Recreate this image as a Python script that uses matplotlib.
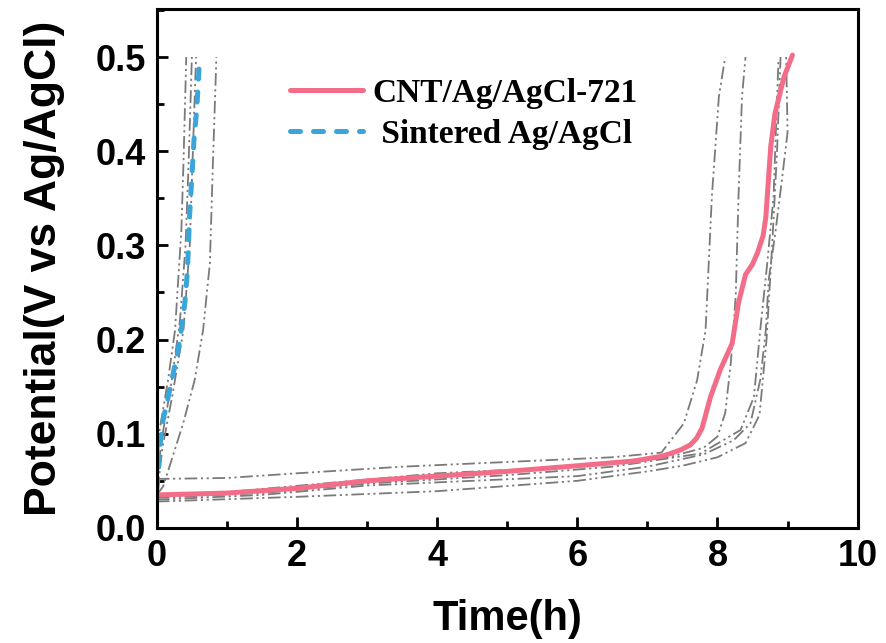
import matplotlib
matplotlib.use("Agg")
import matplotlib.pyplot as plt
from matplotlib.ticker import MultipleLocator, FormatStrFormatter
from matplotlib.font_manager import FontProperties

# CNT/Ag/AgCl-721 (main curve)
cnt_t = [0, 0.5, 1, 2, 3, 4, 5, 6, 6.8, 7.04, 7.2, 7.33, 7.48, 7.61, 7.7, 7.78, 7.9, 8.04, 8.21, 8.3, 8.4, 8.5, 8.57, 8.65, 8.69, 8.76, 8.82, 8.88, 8.95, 9.07]
cnt_v = [0.035, 0.036, 0.037, 0.042, 0.05, 0.055, 0.06, 0.066, 0.071, 0.074, 0.076, 0.079, 0.083, 0.088, 0.095, 0.106, 0.139, 0.168, 0.196, 0.239, 0.269, 0.28, 0.292, 0.31, 0.33, 0.405, 0.44, 0.458, 0.479, 0.502]

# Sintered Ag/AgCl (main curve)
sin_t = [0, 0.02, 0.043, 0.09, 0.162, 0.233, 0.305, 0.352, 0.4, 0.433, 0.452, 0.462, 0.486, 0.51, 0.53, 0.567, 0.59, 0.61]
sin_v = [0.04, 0.058, 0.086, 0.115, 0.139, 0.164, 0.189, 0.212, 0.239, 0.269, 0.299, 0.325, 0.355, 0.385, 0.412, 0.442, 0.47, 0.5]

# repeat measurements, CNT electrodes (grey)
cnt_rep_t = [
    [0, 1, 2, 3.5, 5, 6.5, 7.2, 7.52, 7.71, 7.83, 7.92, 8.02, 8.11],
    [0, 1, 2.5, 4, 6, 7.3, 7.8, 8.0, 8.11, 8.19, 8.26, 8.3, 8.35, 8.4],
    [0, 1.5, 3, 4.5, 6, 7, 7.8, 8.23, 8.47, 8.61, 8.69, 8.73, 8.83, 8.92, 9.0, 8.98],
    [0, 1.5, 3, 5, 6.5, 7.76, 8.33, 8.52, 8.61, 8.71, 8.8, 8.87],
    [0, 2, 4, 6, 7, 7.5, 8.0, 8.4, 8.6, 8.7, 8.78, 8.85, 8.9],
]
cnt_rep_v = [
    [0.052, 0.053, 0.058, 0.065, 0.07, 0.075, 0.08, 0.111, 0.157, 0.21, 0.352, 0.458, 0.5],
    [0.033, 0.038, 0.048, 0.058, 0.065, 0.075, 0.085, 0.097, 0.122, 0.175, 0.246, 0.352, 0.458, 0.5],
    [0.03, 0.035, 0.045, 0.05, 0.055, 0.065, 0.078, 0.093, 0.111, 0.157, 0.21, 0.263, 0.316, 0.37, 0.42, 0.5],
    [0.032, 0.037, 0.047, 0.056, 0.065, 0.079, 0.104, 0.139, 0.21, 0.281, 0.352, 0.497],
    [0.028, 0.033, 0.039, 0.05, 0.06, 0.066, 0.075, 0.09, 0.12, 0.2, 0.3, 0.4, 0.5],
]

# repeat measurements, sintered electrodes (grey)
sin_rep_t = [
    [0, 0.04, 0.16, 0.26, 0.35, 0.38, 0.42],
    [0, 0.06, 0.2, 0.33, 0.41, 0.45, 0.48, 0.5],
    [0, 0.08, 0.22, 0.38, 0.47, 0.51, 0.56],
    [0, 0.09, 0.21, 0.376, 0.54, 0.66, 0.757, 0.8, 0.85],
]
sin_rep_v = [
    [0.05, 0.104, 0.157, 0.21, 0.316, 0.387, 0.5],
    [0.04, 0.09, 0.15, 0.22, 0.3, 0.38, 0.45, 0.5],
    [0.035, 0.085, 0.14, 0.21, 0.3, 0.39, 0.5],
    [0.035, 0.044, 0.072, 0.111, 0.157, 0.21, 0.281, 0.387, 0.5],
]

fig = plt.figure(figsize=(8.86, 6.43), dpi=100)
ax = fig.add_axes([0.177, 0.179, 0.791, 0.807])

grey_style = dict(color="#7a7a7a", lw=1.3, ls=(0, (7, 2, 1.2, 2, 1.2, 2)))
for t, v in zip(cnt_rep_t, cnt_rep_v):
    ax.plot(t, v, **grey_style)
for t, v in zip(sin_rep_t, sin_rep_v):
    ax.plot(t, v, **grey_style)

ax.plot(cnt_t, cnt_v, color="#f36d88", lw=3.6, solid_capstyle="round", solid_joinstyle="round",
        label="CNT/Ag/AgCl-721")
ax.plot(sin_t, sin_v, color="#3aa5d8", lw=3.6, ls=(0, (2.0, 2.6)), dash_capstyle="round",
        label=" Sintered Ag/AgCl")

ax.set_xlim(0, 10)
ax.set_ylim(0, 0.551)
ax.xaxis.set_major_locator(MultipleLocator(2))
ax.xaxis.set_minor_locator(MultipleLocator(1))
ax.yaxis.set_major_locator(MultipleLocator(0.1))
ax.yaxis.set_minor_locator(MultipleLocator(0.05))
ax.yaxis.set_major_formatter(FormatStrFormatter("%.1f"))

for s in ax.spines.values():
    s.set_linewidth(2.2)
ax.tick_params(which="both", direction="in", width=2, top=False, right=False)
ax.tick_params(which="major", length=8, pad=8)
ax.tick_params(which="minor", length=5)

tick_font = FontProperties(family="Liberation Sans", weight="bold", size=26)
for lab in ax.get_xticklabels() + ax.get_yticklabels():
    lab.set_fontproperties(tick_font)

ax.set_xlabel("Time(h)", family="Liberation Sans", weight="bold", size=30, labelpad=18)
ax.set_ylabel("Potential(V vs Ag/AgCl)", family="Liberation Sans", weight="bold", size=32, labelpad=22)

ax.legend(loc="upper left", bbox_to_anchor=(0.147, 0.925), frameon=False, handlelength=2.2,
          handletextpad=0.28, labelspacing=0.3,
          prop=dict(family="Liberation Serif", weight="bold", size=24))

fig.savefig("out.png", dpi=100)
